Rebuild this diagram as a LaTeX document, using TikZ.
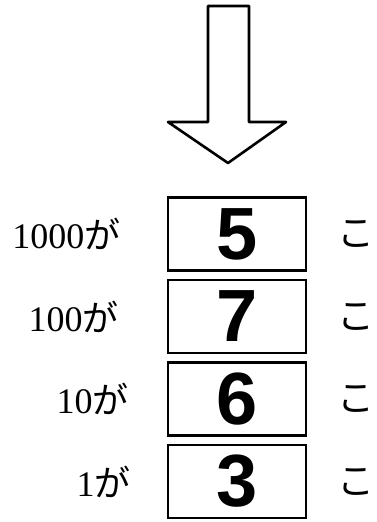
\documentclass[tikz,border=0pt]{standalone}
\usepackage{fontspec}
\setmainfont{Liberation Serif}
\newfontfamily\jpfont{Noto Sans CJK JP}
\newfontfamily\digitfont{Liberation Sans}
\usetikzlibrary{positioning}
\newcommand\lblfont{\fontsize{36}{38}\selectfont}
\newcommand\boxfont{\digitfont\bfseries\fontsize{74}{78}\selectfont}
\begin{document}
\begin{tikzpicture}[x=1pt,y=-1pt,node distance=82.5pt,every node/.style={inner sep=0pt}]
\tikzstyle{digitbox}=[draw,line width=2.6pt,minimum width=138pt,minimum height=73pt,font=\boxfont]
\tikzstyle{lbl}=[font=\lblfont]
\tikzstyle{unit}=[font=\jpfont\fontsize{37}{40}\selectfont]
\useasboundingbox (0,0) rectangle (376,522);
% big arrow
\draw[line width=2.6pt,line join=round] (208,6) -- (249,6) -- (249,122) -- (286,122)
  -- (228,163) -- (168,122) -- (208,122) -- cycle;

\node[digitbox] (n01) at (237,234) {5};
\node[digitbox,below of=n01] (n11) {7};
\node[digitbox,below of=n11] (n21) {6};
\node[digitbox,below of=n21] (n31) {3};

\node[lbl,left=46pt of n01] (n00) {1000{\jpfont が}};
\node[lbl,left=48pt of n11] (n10) {100{\jpfont が}};
\node[lbl,left=38pt of n21] (n20) {10{\jpfont が}};
\node[lbl,left=36pt of n31] (n30) {1{\jpfont が}};

\node[unit,right=30pt of n01] (n02) {こ};
\node[unit,right=30pt of n11] (n12) {こ};
\node[unit,right=30pt of n21] (n22) {こ};
\node[unit,right=30pt of n31] (n32) {こ};
\end{tikzpicture}
\end{document}
